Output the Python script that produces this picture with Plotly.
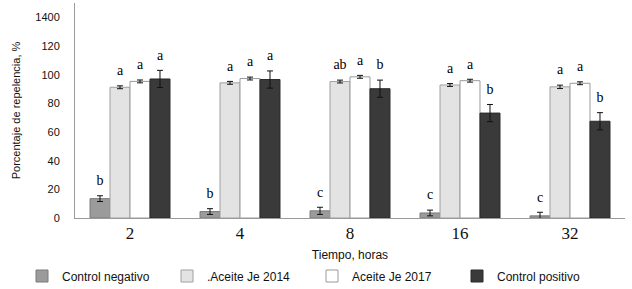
import plotly.graph_objects as go

categories = ["2", "4", "8", "16", "32"]
series_names = ["Control negativo", ".Aceite Je 2014", "Aceite Je 2017", "Control positivo"]

neg_vals = [13.5, 4.5, 5.0, 3.5, 1.5]
neg_err = [2.0, 2.0, 2.5, 2.0, 2.5]
a14_vals = [91.2, 94.3, 95.2, 92.8, 91.5]
a14_err = [1.0, 1.0, 1.0, 1.0, 1.2]
a17_vals = [95.3, 97.3, 98.5, 95.8, 94.0]
a17_err = [1.0, 1.0, 1.0, 1.0, 1.0]
pos_vals = [97.0, 96.6, 90.2, 73.2, 67.5]
pos_err = [6.0, 6.0, 6.0, 6.0, 6.0]

neg_letters = ["b", "b", "c", "c", "c"]
a14_letters = ["a", "a", "ab", "a", "a"]
a17_letters = ["a", "a", "a", "a", "a"]
pos_letters = ["a", "a", "b", "b", "b"]

y_tickvals = [0, 20, 40, 60, 80, 100, 120, 140]
y_ticktext = ["0", "20", "40", "60", "80", "100", "120", "1400"]

fills = ["#9b9b9b", "#e3e3e3", "#ffffff", "#3a3a3a"]
lines = ["#7a7a7a", "#a0a0a0", "#9a9a9a", "#2a2a2a"]

vals = [neg_vals, a14_vals, a17_vals, pos_vals]
errs = [neg_err, a14_err, a17_err, pos_err]
letters = [neg_letters, a14_letters, a17_letters, pos_letters]

fig = go.Figure()
for i, name in enumerate(series_names):
    fig.add_trace(go.Bar(
        x=categories, y=vals[i], name=name, offsetgroup=str(i),
        marker=dict(color=fills[i], line=dict(color=lines[i], width=1)),
        error_y=dict(type="data", array=errs[i], color="#111111", thickness=1, width=3),
    ))
for i, name in enumerate(series_names):
    tops = [v + e for v, e in zip(vals[i], errs[i])]
    fig.add_trace(go.Scatter(
        x=categories, y=tops, mode="markers+text", text=letters[i], offsetgroup=str(i),
        marker=dict(size=10, opacity=0),
        textposition="top center", showlegend=False, cliponaxis=False,
        textfont=dict(family="Liberation Serif, Times New Roman, serif", size=14, color="#000000"),
        hoverinfo="skip",
    ))

fig.update_layout(
    width=632, height=289,
    margin=dict(l=75, r=7, t=3, b=71, autoexpand=False),
    paper_bgcolor="white", plot_bgcolor="white",
    barmode="group", bargap=0.273, bargroupgap=0,
    scattermode="group",
    showlegend=True,
    legend=dict(orientation="h", x=(22 - 75) / 550, xanchor="left",
                y=(218 - 276) / 215, yanchor="middle",
                entrywidth=100, entrywidthmode="pixels",
                itemwidth=30, tracegroupgap=0, borderwidth=0,
                font=dict(family="Liberation Sans, Arial, sans-serif", size=12, color="#111111"),
                traceorder="normal"),
    font=dict(family="Liberation Sans, Arial, sans-serif", color="#111111"),
)
fig.update_xaxes(
    showline=True, linecolor="#9a9a9a", linewidth=1, ticks="",
    tickfont=dict(family="Liberation Serif, Times New Roman, serif", size=17, color="#111111"),
    ticklabelstandoff=0,
    title=dict(text="Tiempo, horas", font=dict(size=12), standoff=8),
)
fig.update_yaxes(
    range=[0, 150], tickvals=y_tickvals, ticktext=y_ticktext,
    showgrid=False, zeroline=False, showline=True, linecolor="#9a9a9a", linewidth=1,
    ticks="", tickfont=dict(size=11), ticklabelstandoff=12,
    title=dict(text="Porcentaje de repelencia, %", font=dict(size=11), standoff=12),
)
fig.write_html("out.html", config={"displayModeBar": False},
               post_script="document.body.style.margin='0';document.body.style.padding='0';")
